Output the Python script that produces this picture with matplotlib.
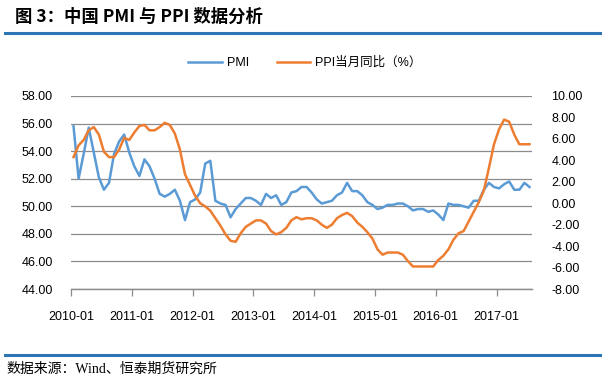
import matplotlib
matplotlib.use('Agg')
import matplotlib.pyplot as plt
from matplotlib.lines import Line2D
import numpy as np

plt.rcParams['font.family'] = ['Liberation Sans', 'Noto Sans CJK SC', 'DejaVu Sans']

# 2010-01 .. 2017-07, monthly
pmi = [55.8, 52.0, 53.8, 55.7, 53.9, 52.1, 51.2, 51.7, 53.8, 54.7, 55.2, 53.9,
       52.9, 52.2, 53.4, 52.9, 52.0, 50.9, 50.7, 50.9, 51.2, 50.4, 49.0, 50.3,
       50.5, 51.0, 53.1, 53.3, 50.4, 50.2, 50.1, 49.2, 49.8, 50.2, 50.6, 50.6,
       50.4, 50.1, 50.9, 50.6, 50.8, 50.1, 50.3, 51.0, 51.1, 51.4, 51.4, 51.0,
       50.5, 50.2, 50.3, 50.4, 50.8, 51.0, 51.7, 51.1, 51.1, 50.8, 50.3, 50.1,
       49.8, 49.9, 50.1, 50.1, 50.2, 50.2, 50.0, 49.7, 49.8, 49.8, 49.6, 49.7,
       49.4, 49.0, 50.2, 50.1, 50.1, 50.0, 49.9, 50.4, 50.4, 51.2, 51.7, 51.4,
       51.3, 51.6, 51.8, 51.2, 51.2, 51.7, 51.4]
ppi = [4.3, 5.4, 5.9, 6.8, 7.1, 6.4, 4.8, 4.3, 4.3, 5.0, 6.1, 5.9,
       6.6, 7.2, 7.3, 6.8, 6.8, 7.1, 7.5, 7.3, 6.5, 5.0, 2.7, 1.7,
       0.7, 0.0, -0.3, -0.7, -1.4, -2.1, -2.9, -3.5, -3.6, -2.8, -2.2, -1.9,
       -1.6, -1.6, -1.9, -2.6, -2.9, -2.7, -2.3, -1.6, -1.3, -1.5, -1.4, -1.4,
       -1.6, -2.0, -2.3, -2.0, -1.4, -1.1, -0.9, -1.2, -1.8, -2.2, -2.7, -3.3,
       -4.3, -4.8, -4.6, -4.6, -4.6, -4.8, -5.4, -5.9, -5.9, -5.9, -5.9, -5.9,
       -5.3, -4.9, -4.3, -3.4, -2.8, -2.6, -1.7, -0.8, 0.1, 1.2, 3.3, 5.5,
       6.9, 7.8, 7.6, 6.4, 5.5, 5.5, 5.5]
year_labels = ['2010-01', '2011-01', '2012-01', '2013-01', '2014-01',
               '2015-01', '2016-01', '2017-01']

blue = '#5B9BD5'
orange = '#ED7D31'
grid = '#8C8C8C'
bar = '#2E75B6'

fig = plt.figure(figsize=(6.04, 3.81), dpi=100)
ax = fig.add_axes([71 / 604, 1 - 289 / 381, (532 - 71) / 604, (289 - 96) / 381])
ax2 = ax.twinx()

x = np.arange(len(pmi))
l1, = ax.plot(x, pmi, color=blue, lw=1.8, label='PMI')
l2, = ax2.plot(x, ppi, color=orange, lw=1.8, label='PPI当月同比（%）')

ax.set_xlim(-0.5, len(pmi) - 0.5)
ax.set_ylim(44, 58)
ax.set_yticks(np.arange(44, 58.1, 2))
ax.set_yticklabels(['%.2f' % v for v in np.arange(44, 58.1, 2)])
ax2.set_ylim(-8, 10)
ax2.set_yticks(np.arange(-8, 10.1, 2))
ax2.set_yticklabels(['%.2f' % v for v in np.arange(-8, 10.1, 2)])

ax.set_xticks(np.arange(0, len(pmi), 12) - 0.5)
ax.set_xticklabels(year_labels)
ax.yaxis.grid(True, color=grid, lw=0.9)
ax.set_axisbelow(True)

for a in (ax, ax2):
    for s in ('top', 'left', 'right'):
        a.spines[s].set_visible(False)
    a.spines['bottom'].set_color(grid)
    a.spines['bottom'].set_linewidth(0.9)
ax.tick_params(axis='y', length=0, pad=13, labelsize=9)
ax2.tick_params(axis='y', length=0, pad=14, labelsize=9)
ax.tick_params(axis='x', length=5, color=grid, width=0.9, pad=11, labelsize=9)

fig.legend(handles=[l1, l2], loc='center', bbox_to_anchor=(0.505, 1 - 63 / 381),
           ncol=2, frameon=False, fontsize=9, handlelength=2.7, columnspacing=2.2,
           handletextpad=0.4)

fig.text(15 / 604, 1 - 17 / 381, '图 3：中国 PMI 与 PPI 数据分析', fontsize=12.5,
         fontweight='bold', va='center', ha='left',
         family=['Noto Sans CJK SC', 'DejaVu Sans'])
fig.add_artist(Line2D([5 / 604, 600 / 604], [1 - 33 / 381] * 2, color=bar, lw=2.2))
fig.add_artist(Line2D([5 / 604, 600 / 604], [1 - 355 / 381] * 2, color=bar, lw=2.2))
fig.text(6 / 604, 1 - 369 / 381, '数据来源：Wind、恒泰期货研究所', fontsize=10,
         va='center', ha='left', family=['Liberation Serif', 'Noto Sans CJK SC'])

fig.savefig('out.png', dpi=100)
